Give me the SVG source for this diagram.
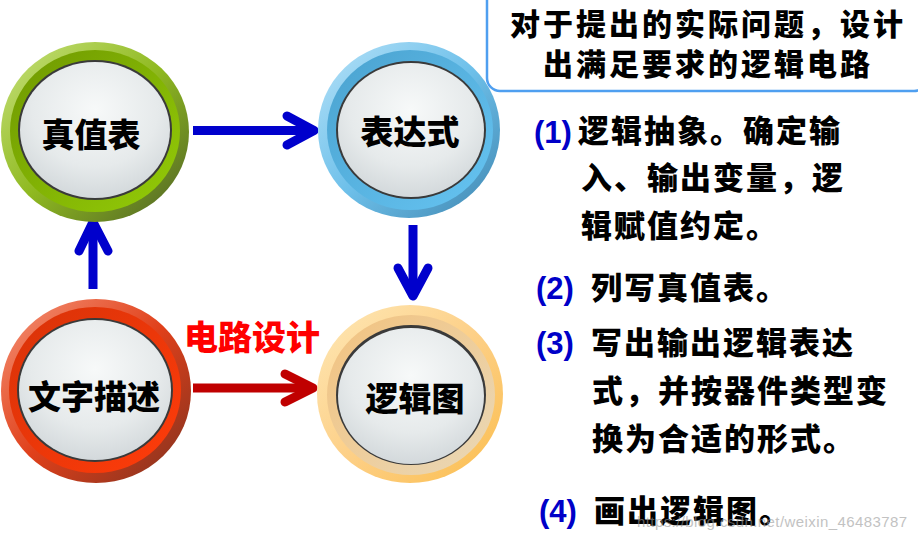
<svg xmlns="http://www.w3.org/2000/svg" width="918" height="539" viewBox="0 0 918 539">
<style>
.lbl{font-family:"Noto Sans CJK SC","Noto Sans",sans-serif;font-weight:900;font-size:33px;fill:#000;text-anchor:middle}
.cj{font-family:"Noto Sans CJK SC","Noto Sans",sans-serif;font-weight:900;font-size:31px;fill:#000;letter-spacing:2px}
.num{font-family:"Liberation Sans",Arial,sans-serif;font-weight:bold;font-size:31px;fill:#0000C8}
.head{font-family:"Noto Sans CJK SC","Noto Sans",sans-serif;font-weight:900;font-size:30px;fill:#000;letter-spacing:3px;text-anchor:middle}
.red{font-family:"Noto Sans CJK SC","Noto Sans",sans-serif;font-weight:900;font-size:34px;fill:#FF0000}
.face{fill:url(#face)}
.rim{fill:#3a3a3a}
.shaft{fill:none;stroke-width:9}
.head2{fill:none;stroke-width:9;stroke-linecap:round;stroke-linejoin:round}
.blue{stroke:#0000CC}
.dred{stroke:#C00000}
.wm{font-family:"Liberation Sans",Arial,sans-serif;font-size:15px;fill:#9a9a9a;opacity:0.6}
</style>
<defs>
<radialGradient id="face" cx="0.5" cy="0.35" r="0.7">
<stop offset="0" stop-color="#f7f9f9"/>
<stop offset="0.6" stop-color="#e6eaeb"/>
<stop offset="1" stop-color="#cfd5d8"/>
</radialGradient>
<linearGradient id="gO" x1="0" y1="0" x2="1" y2="1">
<stop offset="0" stop-color="#c8e27e"/>
<stop offset="0.5" stop-color="#8fb920"/>
<stop offset="1" stop-color="#4d5f26"/>
</linearGradient>
<linearGradient id="gM" x1="0" y1="0" x2="1" y2="1">
<stop offset="0" stop-color="#6f9800"/>
<stop offset="1" stop-color="#94cc08"/>
</linearGradient>
<linearGradient id="bO" x1="0" y1="0" x2="1" y2="1">
<stop offset="0" stop-color="#b6e2f8"/>
<stop offset="0.5" stop-color="#6ec0ea"/>
<stop offset="1" stop-color="#3f86b0"/>
</linearGradient>
<linearGradient id="bM" x1="0" y1="0" x2="1" y2="1">
<stop offset="0" stop-color="#4aa2cf"/>
<stop offset="1" stop-color="#66c4f2"/>
</linearGradient>
<linearGradient id="rO" x1="0" y1="0" x2="1" y2="1">
<stop offset="0" stop-color="#f59478"/>
<stop offset="0.5" stop-color="#e0401a"/>
<stop offset="1" stop-color="#7e3220"/>
</linearGradient>
<linearGradient id="rM" x1="0" y1="0" x2="1" y2="1">
<stop offset="0" stop-color="#d83208"/>
<stop offset="1" stop-color="#ff3c0a"/>
</linearGradient>
<linearGradient id="oO" x1="0" y1="0" x2="1" y2="1">
<stop offset="0" stop-color="#fee8b6"/>
<stop offset="0.5" stop-color="#fdd088"/>
<stop offset="1" stop-color="#fbbd4c"/>
</linearGradient>
<linearGradient id="oM" x1="0" y1="0" x2="1" y2="1">
<stop offset="0" stop-color="#f2c27e"/>
<stop offset="1" stop-color="#e9d8b8"/>
</linearGradient>
</defs>

<g id="goal-box">
<rect x="487" y="-20" width="440" height="111" rx="13" fill="#fff" stroke="#4f9ff0" stroke-width="2.5"/>
<text class="head" x="708" y="35">对于提出的实际问题，设计</text>
<text class="head" x="708" y="75">出满足要求的逻辑电路</text>
</g>

<g id="connectors">
<path class="shaft blue" d="M193 130.5 H312"/>
<path class="head2 blue" d="M287 116 L314 130.5 L287 145"/>
<path class="shaft blue" d="M93 289 V224"/>
<path class="head2 blue" d="M79 251 L93 222 L108 251"/>
<path class="shaft blue" d="M413 225 V294"/>
<path class="head2 blue" d="M398 268 L413 296 L428 268"/>
<path class="shaft dred" d="M193 388 H312"/>
<path class="head2 dred" d="M285 374 L313 388 L285 402"/>
<text class="red" x="184" y="350">电路设计</text>
</g>

<g id="node-truth-table">
<ellipse cx="95" cy="132" rx="94" ry="90" fill="url(#gO)"/>
<ellipse cx="95" cy="131" rx="85" ry="81" fill="url(#gM)"/>
<ellipse cx="95" cy="130" rx="77" ry="70" class="rim"/>
<ellipse cx="95" cy="130" rx="75" ry="68" class="face"/>
<text class="lbl" x="91" y="147">真值表</text>
</g>

<g id="node-expression">
<ellipse cx="409" cy="130" rx="91" ry="88" fill="url(#bO)"/>
<ellipse cx="410" cy="130" rx="83" ry="80" fill="url(#bM)"/>
<ellipse cx="411" cy="130" rx="75" ry="69" class="rim"/>
<ellipse cx="411" cy="130" rx="73" ry="67" class="face"/>
<text class="lbl" x="410" y="144">表达式</text>
</g>

<g id="node-text-desc">
<ellipse cx="96" cy="391" rx="95" ry="92" fill="url(#rO)"/>
<ellipse cx="95" cy="390" rx="86" ry="83" fill="url(#rM)"/>
<ellipse cx="95" cy="390" rx="78" ry="72" class="rim"/>
<ellipse cx="95" cy="390" rx="76" ry="70" class="face"/>
<text class="lbl" x="94" y="409">文字描述</text>
</g>

<g id="node-logic-diagram">
<ellipse cx="410" cy="394" rx="93" ry="89" fill="url(#oO)"/>
<ellipse cx="411" cy="395" rx="84" ry="80" fill="url(#oM)"/>
<ellipse cx="411" cy="395" rx="75" ry="70" class="rim"/>
<ellipse cx="411" cy="396" rx="73" ry="68" class="face"/>
<text class="lbl" x="415" y="411">逻辑图</text>
</g>

<g id="steps">
<text class="num" x="534" y="143">(1)</text>
<text class="cj" x="578" y="142">逻辑抽象。确定输</text>
<text class="cj" x="581" y="189">入、输出变量，逻</text>
<text class="cj" x="581" y="237">辑赋值约定。</text>
<text class="num" x="536" y="299">(2)</text>
<text class="cj" x="591" y="299">列写真值表。</text>
<text class="num" x="536" y="354">(3)</text>
<text class="cj" x="591" y="354">写出输出逻辑表达</text>
<text class="cj" x="592" y="402">式，并按器件类型变</text>
<text class="cj" x="592" y="450">换为合适的形式。</text>
<text class="num" x="539" y="522">(4)</text>
<text class="cj" x="594" y="522">画出逻辑图。</text>
</g>

<text class="wm" x="637" y="527" textLength="270">https://blog.csdn.net/weixin_46483787</text>
</svg>
